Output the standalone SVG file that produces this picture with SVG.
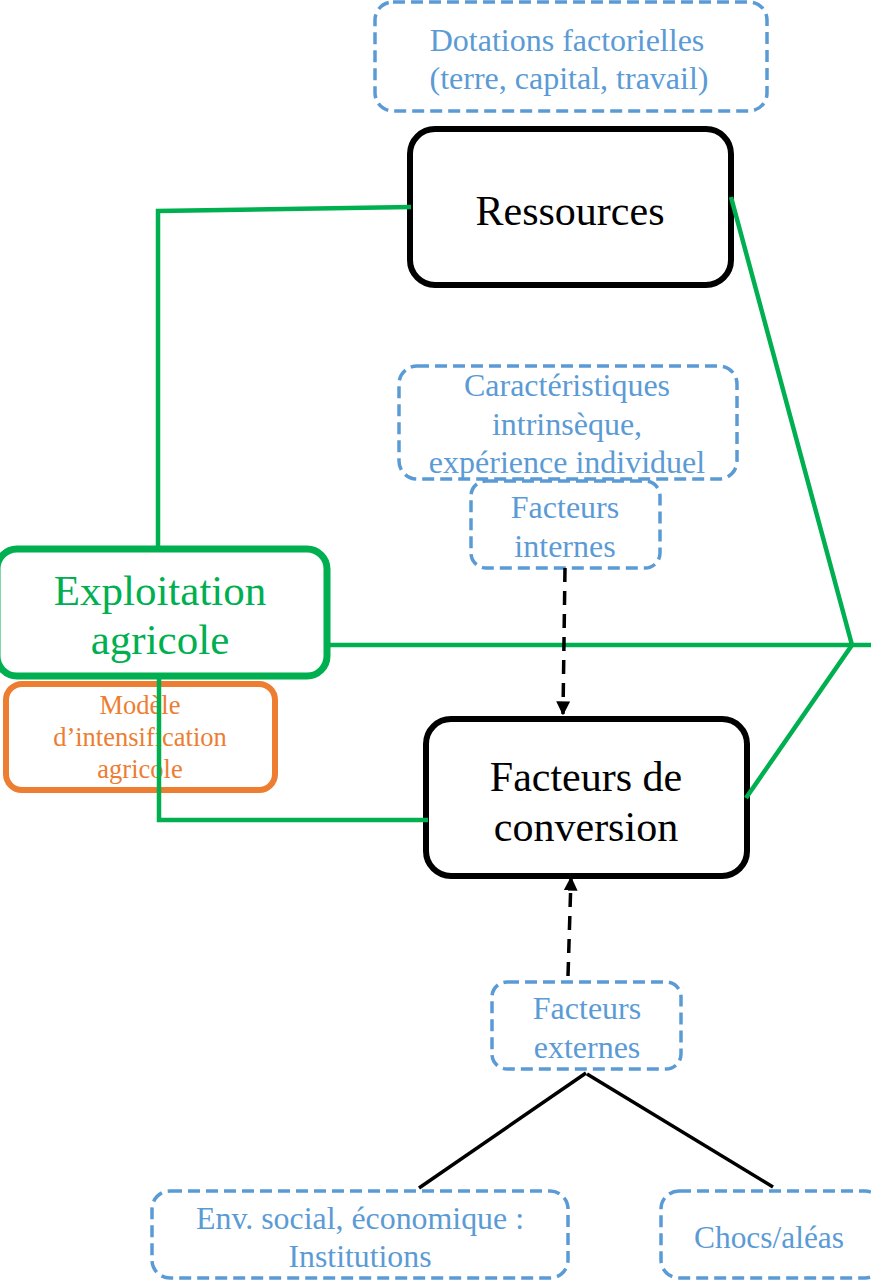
<svg xmlns="http://www.w3.org/2000/svg" width="871" height="1282" viewBox="0 0 871 1282">
<defs>
<style>
.blue{fill:#fff;stroke:#5b9bd5;stroke-width:3.5;stroke-dasharray:12 6}
.bt{fill:#5b9bd5;font-family:"Liberation Serif",serif;font-size:32px;text-anchor:middle}
.main{fill:#fff;stroke:#000;stroke-width:6}
.mt{fill:#000;font-family:"Liberation Serif",serif;font-size:42px;text-anchor:middle}
.g{fill:none;stroke:#00b050;stroke-width:4.5}
.dash{fill:none;stroke:#000;stroke-width:3.5;stroke-dasharray:14 9}
</style>
<marker id="ah" viewBox="0 0 10 10" refX="9" refY="5" markerWidth="4" markerHeight="4" orient="auto" markerUnits="strokeWidth">
<path d="M0,0 L10,5 L0,10 z" fill="#000"/>
</marker>
</defs>
<g id="dotations">
<rect class="blue" x="375" y="2" width="392" height="109" rx="18"/>
<text class="bt" x="567" y="51">Dotations factorielles</text>
<text class="bt" x="569" y="89">(terre, capital, travail)</text>
</g>
<g id="ressources">
<rect class="main" x="410" y="129" width="321" height="156" rx="25"/>
<text class="mt" x="570" y="225">Ressources</text>
</g>
<g id="caracteristiques">
<rect class="blue" x="399" y="366" width="338" height="113" rx="18"/>
<text class="bt" x="567" y="396">Caractéristiques</text>
<text class="bt" x="567" y="435">intrinsèque,</text>
<text class="bt" x="567" y="473">expérience individuel</text>
</g>
<g id="internes">
<rect class="blue" x="471" y="481" width="189" height="87" rx="15"/>
<text class="bt" x="565" y="518">Facteurs</text>
<text class="bt" x="565" y="557">internes</text>
</g>
<g id="conversion">
<rect class="main" x="426" y="719" width="321" height="157" rx="25"/>
<text class="mt" x="586" y="791">Facteurs de</text>
<text class="mt" x="586" y="841">conversion</text>
</g>
<g id="externes">
<rect class="blue" x="492" y="982" width="189" height="87" rx="15"/>
<text class="bt" x="587" y="1019">Facteurs</text>
<text class="bt" x="587" y="1058">externes</text>
</g>
<g id="env">
<rect class="blue" x="152" y="1191" width="416" height="87" rx="18"/>
<text class="bt" x="360" y="1229" textLength="328" lengthAdjust="spacingAndGlyphs">Env. social, économique :</text>
<text class="bt" x="360" y="1267" textLength="143" lengthAdjust="spacingAndGlyphs">Institutions</text>
</g>
<g id="chocs">
<rect class="blue" x="661" y="1191" width="222" height="87" rx="18"/>
<text class="bt" x="769" y="1248" textLength="150" lengthAdjust="spacingAndGlyphs">Chocs/aléas</text>
</g>
<g id="exploitation">
<rect fill="#fff" stroke="#00b050" stroke-width="7" x="-3" y="549" width="330" height="127" rx="20"/>
<text x="160" y="605" fill="#00b050" font-family="Liberation Serif,serif" font-size="43" text-anchor="middle">Exploitation</text>
<text x="160" y="654" fill="#00b050" font-family="Liberation Serif,serif" font-size="43" text-anchor="middle">agricole</text>
</g>
<g id="modele">
<rect fill="#fff" stroke="#ed7d31" stroke-width="6" x="6" y="684" width="269" height="106" rx="16"/>
<text x="140" y="714" fill="#ed7d31" font-family="Liberation Serif,serif" font-size="26.5" text-anchor="middle">Modèle</text>
<text x="140" y="746" fill="#ed7d31" font-family="Liberation Serif,serif" font-size="26.5" text-anchor="middle">d’intensification</text>
<text x="140" y="778" fill="#ed7d31" font-family="Liberation Serif,serif" font-size="26.5" text-anchor="middle">agricole</text>
</g>
<g id="connectors">
<polyline class="g" points="158,546 158,211 411,207"/>
<polyline class="g" points="159,679 159,820 428,820"/>
<line class="g" x1="329" y1="645" x2="871" y2="645"/>
<polyline class="g" points="731,197 852,645 746,798"/>
<line class="dash" x1="565" y1="568" x2="563" y2="714" marker-end="url(#ah)"/>
<line class="dash" x1="568" y1="976" x2="571" y2="878" marker-end="url(#ah)"/>
<line stroke="#000" stroke-width="3.5" x1="586" y1="1073" x2="419" y2="1188"/>
<line stroke="#000" stroke-width="3.5" x1="587" y1="1074" x2="773" y2="1187"/>
</g>
</svg>
